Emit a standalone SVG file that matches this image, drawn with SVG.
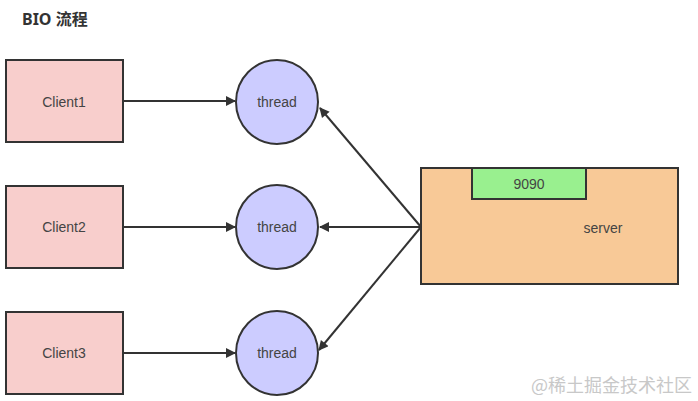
<svg xmlns="http://www.w3.org/2000/svg" width="698" height="401" viewBox="0 0 698 401">
<style>
.client{fill:#f8cecc;stroke:#333;stroke-width:2}
.thread{fill:#ccccff;stroke:#333;stroke-width:2}
.lbl{font-family:"Liberation Sans",Arial,sans-serif;font-size:14px;fill:#444;text-anchor:middle;dominant-baseline:central}
.conn{stroke:#333;stroke-width:2;fill:none;marker-end:url(#arr)}
</style>
<defs>
<marker id="arr" viewBox="0 0 10 10" refX="9" refY="5" markerWidth="12" markerHeight="10" markerUnits="userSpaceOnUse" orient="auto">
<path d="M0,0 L10,5 L0,10 z" fill="#333"/>
</marker>
</defs>
<rect width="698" height="401" fill="#fff"/>
<text x="22" y="25" font-family="'Noto Sans','Noto Sans CJK SC',sans-serif" font-size="16" font-weight="bold" fill="#333">BIO 流程</text>
<g id="client1"><rect class="client" x="6" y="60" width="117" height="82"/><text class="lbl" x="64" y="102">Client1</text></g>
<g id="client2"><rect class="client" x="6" y="186" width="117" height="82"/><text class="lbl" x="64" y="227">Client2</text></g>
<g id="client3"><rect class="client" x="6" y="312" width="117" height="82"/><text class="lbl" x="64" y="353">Client3</text></g>
<g id="thread1"><ellipse class="thread" cx="277" cy="102" rx="41" ry="42"/><text class="lbl" x="277" y="102">thread</text></g>
<g id="thread2"><ellipse class="thread" cx="277" cy="227" rx="41" ry="42"/><text class="lbl" x="277" y="227">thread</text></g>
<g id="thread3"><ellipse class="thread" cx="277" cy="353" rx="41" ry="42"/><text class="lbl" x="277" y="353">thread</text></g>
<g id="server"><rect x="421" y="168" width="257" height="116" fill="#f8c997" stroke="#333" stroke-width="2"/><text class="lbl" x="603" y="228">server</text></g>
<g id="port"><rect x="472" y="168" width="114" height="31" fill="#99f08f" stroke="#333" stroke-width="2"/><text class="lbl" x="529" y="184">9090</text></g>
<g id="connectors">
<line class="conn" x1="123" y1="101" x2="235" y2="101"/>
<line class="conn" x1="123" y1="227" x2="235" y2="227"/>
<line class="conn" x1="123" y1="353" x2="235" y2="353"/>
<line class="conn" x1="421" y1="227" x2="320" y2="108"/>
<line class="conn" x1="421" y1="227" x2="320" y2="227"/>
<line class="conn" x1="421" y1="227" x2="319" y2="350"/>
</g>
<text x="692" y="392" text-anchor="end" font-family="'Noto Sans CJK SC',sans-serif" font-size="18" fill="#c8c8c8">@稀土掘金技术社区</text>
</svg>
